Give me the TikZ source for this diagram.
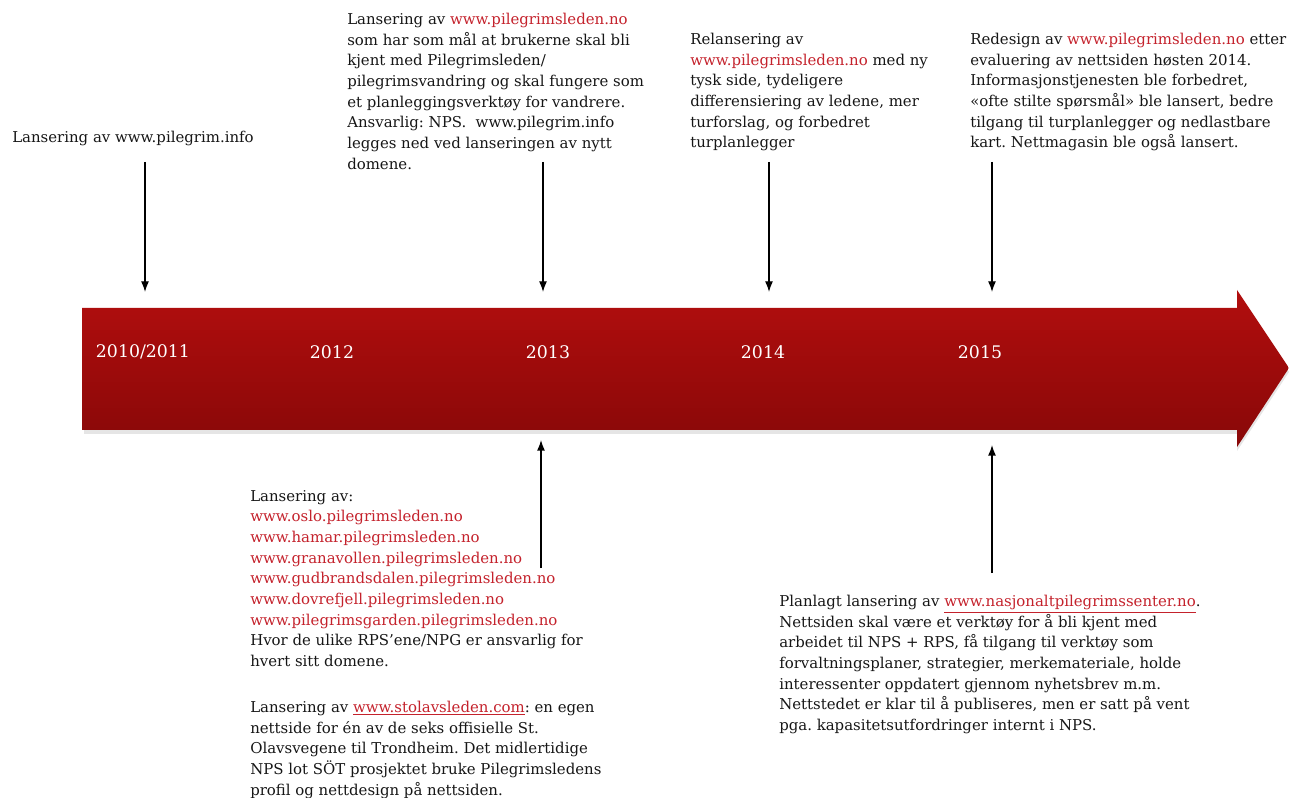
\documentclass[tikz,border=0pt]{standalone}
\usepackage{fontspec}
\setmainfont{DejaVu Serif}
\usetikzlibrary{arrows.meta}
\definecolor{timelinetop}{RGB}{178,14,14}
\definecolor{timelinebottom}{RGB}{136,8,8}
\definecolor{linkred}{RGB}{196,34,44}
\definecolor{notegray}{RGB}{22,22,22}
\newcommand{\weblink}[1]{\textcolor{linkred}{#1}}
\newcommand{\weblinkul}[1]{\textcolor{linkred}{\underline{#1}}}
\frenchspacing

\begin{document}
\begin{tikzpicture}[x=0.75pt, y=-0.75pt,
    note/.style={anchor=north west, align=left, inner sep=0pt, text=notegray,
      font=\fontsize{11.2}{15.5}\selectfont},
    year/.style={text=white, inner sep=0pt, font=\fontsize{13}{14}\selectfont},
    pointer/.style={-{Latex[length=8pt,width=6pt]}, line width=1pt, black}]
    \useasboundingbox (0,0) rectangle (1289,798);

    % Timeline arrow (shadow, then body)
    \fill[black!10] (84,312) -- (1237,312) -- (1237,296) -- (1289,372) -- (1237,451)
      -- (1237,434) -- (84,434) -- cycle;
    \shade[top color=timelinetop, bottom color=timelinebottom]
      (82,308) -- (1237,308) -- (1237,290) -- (1289,368) -- (1237,447)
      -- (1237,430) -- (82,430) -- cycle;

    % Years
    \node[year] (y2010) at (143,352) {2010/2011};
    \node[year] (y2012) at (332,352) {2012};
    \node[year] (y2013) at (548,352) {2013};
    \node[year] (y2014) at (763,352) {2014};
    \node[year] (y2015) at (980,352) {2015};

    % Notes above the timeline
    \node[note, anchor=west] (pilegriminfo) at (12,138) {Lansering av www.pilegrim.info};
    \node[note] (pilegrimsleden) at (347,13) {Lansering av \weblink{www.pilegrimsleden.no}\\
      som har som mål at brukerne skal bli\\
      kjent med Pilegrimsleden/\\
      pilegrimsvandring og skal fungere som\\
      et planleggingsverktøy for vandrere.\\
      Ansvarlig: NPS.\ \ www.pilegrim.info\\
      legges ned ved lanseringen av nytt\\
      domene.};
    \node[note] (relansering) at (690,33) {Relansering av\\
      \weblink{www.pilegrimsleden.no} med ny\\
      tysk side, tydeligere\\
      differensiering av ledene, mer\\
      turforslag, og forbedret\\
      turplanlegger};
    \node[note] (redesign) at (970,33) {Redesign av \weblink{www.pilegrimsleden.no} etter\\
      evaluering av nettsiden høsten 2014.\\
      Informasjonstjenesten ble forbedret,\\
      «ofte stilte spørsmål» ble lansert, bedre\\
      tilgang til turplanlegger og nedlastbare\\
      kart. Nettmagasin ble også lansert.};

    % Notes below the timeline
    \node[note] (regionale) at (250,490) {Lansering av:\\
      \weblink{www.oslo.pilegrimsleden.no}\\
      \weblink{www.hamar.pilegrimsleden.no}\\
      \weblink{www.granavollen.pilegrimsleden.no}\\
      \weblink{www.gudbrandsdalen.pilegrimsleden.no}\\
      \weblink{www.dovrefjell.pilegrimsleden.no}\\
      \weblink{www.pilegrimsgarden.pilegrimsleden.no}\\
      Hvor de ulike RPS'ene/NPG er ansvarlig for\\
      hvert sitt domene.};
    \node[note] (stolav) at (250,701) {Lansering av \weblinkul{www.stolavsleden.com}: en egen\\
      nettside for én av de seks offisielle St.\\
      Olavsvegene til Trondheim. Det midlertidige\\
      NPS lot SÖT prosjektet bruke Pilegrimsledens\\
      profil og nettdesign på nettsiden.};
    \node[note] (senter) at (779,595) {Planlagt lansering av \weblinkul{www.nasjonaltpilegrimssenter.no}.\\
      Nettsiden skal være et verktøy for å bli kjent med\\
      arbeidet til NPS + RPS, få tilgang til verktøy som\\
      forvaltningsplaner, strategier, merkemateriale, holde\\
      interessenter oppdatert gjennom nyhetsbrev m.m.\\
      Nettstedet er klar til å publiseres, men er satt på vent\\
      pga. kapasitetsutfordringer internt i NPS.};

    % Pointers
    \coordinate (p1a) at (145,162);  \coordinate (p1b) at (145,292);
    \coordinate (p2a) at (543,162);  \coordinate (p2b) at (543,292);
    \coordinate (p3a) at (769,162);  \coordinate (p3b) at (769,292);
    \coordinate (p4a) at (992,162);  \coordinate (p4b) at (992,292);
    \coordinate (p5a) at (541,568);  \coordinate (p5b) at (541,440);
    \coordinate (p6a) at (992,573);  \coordinate (p6b) at (992,445);
    \foreach \i in {1,...,6}
      \draw[pointer] (p\i a) -- (p\i b);
\end{tikzpicture}
\end{document}
